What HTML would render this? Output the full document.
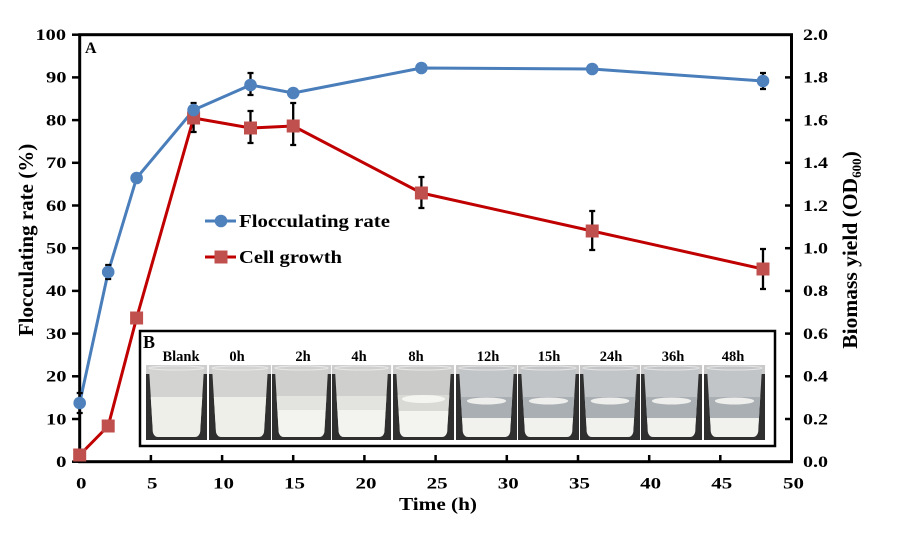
<!DOCTYPE html>
<html>
<head>
<meta charset="utf-8">
<style>
html,body{margin:0;padding:0;background:#fff;}
svg{display:block;}
text{font-family:"Liberation Serif","Times New Roman",serif;font-weight:bold;fill:#000;}
</style>
</head>
<body>
<svg width="899" height="533" viewBox="0 0 899 533" xmlns="http://www.w3.org/2000/svg">
<defs>
  <clipPath id="bk">
    <path d="M3,2 L59,2 L55,67 Q54,72 49,72 L13,72 Q8,72 7,67 Z"/>
  </clipPath>
  <g id="phA">
    <rect x="0" y="0" width="62" height="75" fill="#2f2f2f"/>
    <rect x="0" y="0" width="62" height="9" fill="#cdcdcd"/>
    <g clip-path="url(#bk)">
      <rect x="0" y="0" width="62" height="75" fill="#d3d3d1"/>
      <rect x="0" y="32" width="62" height="43" fill="#efefea"/>
    </g>
    <ellipse cx="31" cy="3" rx="28" ry="2" fill="none" stroke="#e8e8e8" stroke-width="1"/>
  </g>
  <g id="phB">
    <rect x="0" y="0" width="62" height="75" fill="#2f2f2f"/>
    <rect x="0" y="0" width="62" height="9" fill="#cdcdcd"/>
    <g clip-path="url(#bk)">
      <rect x="0" y="0" width="62" height="75" fill="#cfcfcd"/>
      <rect x="0" y="31" width="62" height="14" fill="#e3e3df"/>
      <rect x="0" y="45" width="62" height="30" fill="#f3f3ef"/>
    </g>
    <ellipse cx="31" cy="3" rx="28" ry="2" fill="none" stroke="#e8e8e8" stroke-width="1"/>
  </g>
  <g id="phC">
    <rect x="0" y="0" width="62" height="75" fill="#2f2f2f"/>
    <rect x="0" y="0" width="62" height="9" fill="#cdcdcd"/>
    <g clip-path="url(#bk)">
      <rect x="0" y="0" width="62" height="75" fill="#cbcbc9"/>
      <rect x="0" y="30" width="62" height="16" fill="#d9d9d5"/>
      <ellipse cx="31" cy="34" rx="22" ry="4" fill="#f4f4f1"/>
      <rect x="0" y="46" width="62" height="29" fill="#f3f3ef"/>
    </g>
    <ellipse cx="31" cy="3" rx="28" ry="2" fill="none" stroke="#e8e8e8" stroke-width="1"/>
  </g>
  <g id="phD">
    <rect x="0" y="0" width="62" height="75" fill="#2f2f2f"/>
    <rect x="0" y="0" width="62" height="9" fill="#c9c9c9"/>
    <g clip-path="url(#bk)">
      <rect x="0" y="0" width="62" height="75" fill="#c2c5c7"/>
      <rect x="0" y="32" width="62" height="22" fill="#a9afb3"/>
      <ellipse cx="31" cy="36" rx="20" ry="3.5" fill="#eeeeec"/>
      <rect x="0" y="53" width="62" height="22" fill="#f1f1ed"/>
    </g>
    <ellipse cx="31" cy="3" rx="28" ry="2" fill="none" stroke="#e4e4e4" stroke-width="1"/>
  </g>
</defs>

<!-- plot frame -->
<rect x="79.7" y="34.7" width="711.8" height="427" fill="none" stroke="#000" stroke-width="3"/>

<!-- left ticks (outward) -->
<g stroke="#000" stroke-width="2.5">
  <line x1="72" y1="461.7" x2="79.7" y2="461.7"/>
  <line x1="72" y1="419" x2="79.7" y2="419"/>
  <line x1="72" y1="376.3" x2="79.7" y2="376.3"/>
  <line x1="72" y1="333.6" x2="79.7" y2="333.6"/>
  <line x1="72" y1="290.9" x2="79.7" y2="290.9"/>
  <line x1="72" y1="248.2" x2="79.7" y2="248.2"/>
  <line x1="72" y1="205.5" x2="79.7" y2="205.5"/>
  <line x1="72" y1="162.8" x2="79.7" y2="162.8"/>
  <line x1="72" y1="120.1" x2="79.7" y2="120.1"/>
  <line x1="72" y1="77.4" x2="79.7" y2="77.4"/>
  <line x1="72" y1="34.7" x2="79.7" y2="34.7"/>
</g>
<!-- right ticks (inward) -->
<g stroke="#000" stroke-width="2.5">
  <line x1="785" y1="419" x2="791.5" y2="419"/>
  <line x1="785" y1="376.3" x2="791.5" y2="376.3"/>
  <line x1="785" y1="333.6" x2="791.5" y2="333.6"/>
  <line x1="785" y1="290.9" x2="791.5" y2="290.9"/>
  <line x1="785" y1="248.2" x2="791.5" y2="248.2"/>
  <line x1="785" y1="205.5" x2="791.5" y2="205.5"/>
  <line x1="785" y1="162.8" x2="791.5" y2="162.8"/>
  <line x1="785" y1="120.1" x2="791.5" y2="120.1"/>
  <line x1="785" y1="77.4" x2="791.5" y2="77.4"/>
</g>
<!-- bottom ticks (inward) -->
<g stroke="#000" stroke-width="2.5">
  <line x1="150.9" y1="455" x2="150.9" y2="461.7"/>
  <line x1="222.1" y1="455" x2="222.1" y2="461.7"/>
  <line x1="293.2" y1="455" x2="293.2" y2="461.7"/>
  <line x1="364.4" y1="455" x2="364.4" y2="461.7"/>
  <line x1="435.6" y1="455" x2="435.6" y2="461.7"/>
  <line x1="506.8" y1="455" x2="506.8" y2="461.7"/>
  <line x1="578" y1="455" x2="578" y2="461.7"/>
  <line x1="649.2" y1="455" x2="649.2" y2="461.7"/>
  <line x1="720.3" y1="455" x2="720.3" y2="461.7"/>
</g>

<!-- left tick labels -->
<g font-size="16">
  <text x="56" y="467" textLength="10.5" lengthAdjust="spacingAndGlyphs">0</text>
  <text x="46" y="424.3" textLength="20.5" lengthAdjust="spacingAndGlyphs">10</text>
  <text x="46" y="381.6" textLength="20.5" lengthAdjust="spacingAndGlyphs">20</text>
  <text x="46" y="338.9" textLength="20.5" lengthAdjust="spacingAndGlyphs">30</text>
  <text x="46" y="296.2" textLength="20.5" lengthAdjust="spacingAndGlyphs">40</text>
  <text x="46" y="253.5" textLength="20.5" lengthAdjust="spacingAndGlyphs">50</text>
  <text x="46" y="210.8" textLength="20.5" lengthAdjust="spacingAndGlyphs">60</text>
  <text x="46" y="168.1" textLength="20.5" lengthAdjust="spacingAndGlyphs">70</text>
  <text x="46" y="125.4" textLength="20.5" lengthAdjust="spacingAndGlyphs">80</text>
  <text x="46" y="82.7" textLength="20.5" lengthAdjust="spacingAndGlyphs">90</text>
  <text x="35.5" y="40" textLength="30.5" lengthAdjust="spacingAndGlyphs">100</text>
</g>
<!-- right tick labels -->
<g font-size="16">
  <text x="803" y="467" textLength="25" lengthAdjust="spacingAndGlyphs">0.0</text>
  <text x="803" y="424.3" textLength="25" lengthAdjust="spacingAndGlyphs">0.2</text>
  <text x="803" y="381.6" textLength="25" lengthAdjust="spacingAndGlyphs">0.4</text>
  <text x="803" y="338.9" textLength="25" lengthAdjust="spacingAndGlyphs">0.6</text>
  <text x="803" y="296.2" textLength="25" lengthAdjust="spacingAndGlyphs">0.8</text>
  <text x="803" y="253.5" textLength="25" lengthAdjust="spacingAndGlyphs">1.0</text>
  <text x="803" y="210.8" textLength="25" lengthAdjust="spacingAndGlyphs">1.2</text>
  <text x="803" y="168.1" textLength="25" lengthAdjust="spacingAndGlyphs">1.4</text>
  <text x="803" y="125.4" textLength="25" lengthAdjust="spacingAndGlyphs">1.6</text>
  <text x="803" y="82.7" textLength="25" lengthAdjust="spacingAndGlyphs">1.8</text>
  <text x="803" y="40" textLength="25" lengthAdjust="spacingAndGlyphs">2.0</text>
</g>
<!-- x tick labels -->
<g font-size="16">
  <text x="76" y="488.5" textLength="10.5" lengthAdjust="spacingAndGlyphs">0</text>
  <text x="147" y="488.5" textLength="10.5" lengthAdjust="spacingAndGlyphs">5</text>
  <text x="213" y="488.5" textLength="21" lengthAdjust="spacingAndGlyphs">10</text>
  <text x="284" y="488.5" textLength="21" lengthAdjust="spacingAndGlyphs">15</text>
  <text x="355.5" y="488.5" textLength="21" lengthAdjust="spacingAndGlyphs">20</text>
  <text x="426.7" y="488.5" textLength="21" lengthAdjust="spacingAndGlyphs">25</text>
  <text x="497.8" y="488.5" textLength="21" lengthAdjust="spacingAndGlyphs">30</text>
  <text x="569" y="488.5" textLength="21" lengthAdjust="spacingAndGlyphs">35</text>
  <text x="640.2" y="488.5" textLength="21" lengthAdjust="spacingAndGlyphs">40</text>
  <text x="711.3" y="488.5" textLength="21" lengthAdjust="spacingAndGlyphs">45</text>
  <text x="783" y="488.5" textLength="21" lengthAdjust="spacingAndGlyphs">50</text>
</g>

<!-- axis titles -->
<text x="399" y="510" font-size="18" textLength="78" lengthAdjust="spacingAndGlyphs">Time  (h)</text>
<text transform="translate(33,240) rotate(-90)" x="0" y="0" font-size="21" text-anchor="middle">Flocculating rate (%)</text>
<text transform="translate(857,250) rotate(-90)" x="0" y="0" font-size="21.5" text-anchor="middle">Biomass yield (OD<tspan font-size="13" dy="4">600</tspan><tspan dy="-4">)</tspan></text>

<text x="85" y="53" font-size="16">A</text>

<!-- inset -->
<rect x="140" y="331" width="635" height="115" fill="#fff" stroke="#000" stroke-width="2.5"/>
<text x="143" y="348" font-size="18">B</text>
<g font-size="14.5" text-anchor="middle">
  <text x="181" y="361">Blank</text>
  <text x="237" y="361">0h</text>
  <text x="303" y="361">2h</text>
  <text x="359" y="361">4h</text>
  <text x="416" y="361">8h</text>
  <text x="488" y="361">12h</text>
  <text x="549" y="361">15h</text>
  <text x="611" y="361">24h</text>
  <text x="673" y="361">36h</text>
  <text x="733" y="361">48h</text>
</g>
<use href="#phA" transform="translate(146,365) scale(0.984,1)"/>
<use href="#phA" transform="translate(209,365) scale(1.0,1)"/>
<use href="#phB" transform="translate(272,365) scale(0.952,1)"/>
<use href="#phB" transform="translate(332,365) scale(0.952,1)"/>
<use href="#phC" transform="translate(393,365) scale(0.984,1)"/>
<use href="#phD" transform="translate(456,365) scale(0.984,1)"/>
<use href="#phD" transform="translate(518,365) scale(0.984,1)"/>
<use href="#phD" transform="translate(580,365) scale(0.968,1)"/>
<use href="#phD" transform="translate(641,365) scale(0.984,1)"/>
<use href="#phD" transform="translate(704,365) scale(0.984,1)"/>

<!-- series lines -->
<polyline fill="none" stroke="#C00000" stroke-width="3" stroke-linejoin="round"
  points="79.7,455 108.2,426 136.6,318 193.6,118 250.5,128 293.2,126 421.4,193 592.2,231 763,269"/>
<polyline fill="none" stroke="#4A7EBB" stroke-width="3" stroke-linejoin="round"
  points="79.7,403 108.2,272 136.6,178 193.6,110 250.5,85 293.2,93 421.4,68 592.2,69 763,81"/>

<!-- error bars -->
<g stroke="#000" stroke-width="2.3">
  <path d="M79.7,393V413M76.7,393H82.7M76.7,413H82.7"/>
  <path d="M108.2,265V279M105.2,265H111.2M105.2,279H111.2"/>
  <path d="M193.6,103V117M190.6,103H196.6"/>
  <path d="M250.5,73V95M247.5,73H253.5M247.5,95H253.5"/>
  <path d="M763,73V89M760,73H766M760,89H766"/>
  <path d="M193.6,102V132M190.6,132H196.6"/>
  <path d="M250.5,111V143M247.5,111H253.5M247.5,143H253.5"/>
  <path d="M293.2,103V145M290.2,103H296.2M290.2,145H296.2"/>
  <path d="M421.4,177V208M418.4,177H424.4M418.4,208H424.4"/>
  <path d="M592.2,211V250M589.2,211H595.2M589.2,250H595.2"/>
  <path d="M763,249V289M760,249H766M760,289H766"/>
</g>

<!-- markers -->
<g fill="#C0504D">
  <rect x="73.2" y="448.5" width="13" height="13"/>
  <rect x="101.7" y="419.5" width="13" height="13"/>
  <rect x="130.1" y="311.5" width="13" height="13"/>
  <rect x="187.1" y="111.5" width="13" height="13"/>
  <rect x="244" y="121.5" width="13" height="13"/>
  <rect x="286.7" y="119.5" width="13" height="13"/>
  <rect x="414.9" y="186.5" width="13" height="13"/>
  <rect x="585.7" y="224.5" width="13" height="13"/>
  <rect x="756.5" y="262.5" width="13" height="13"/>
</g>
<g fill="#4F81BD">
  <circle cx="79.7" cy="403" r="6.3"/>
  <circle cx="108.2" cy="272" r="6.3"/>
  <circle cx="136.6" cy="178" r="6.3"/>
  <circle cx="193.6" cy="110" r="6.3"/>
  <circle cx="250.5" cy="85" r="6.3"/>
  <circle cx="293.2" cy="93" r="6.3"/>
  <circle cx="421.4" cy="68" r="6.3"/>
  <circle cx="592.2" cy="69" r="6.3"/>
  <circle cx="763" cy="81" r="6.3"/>
</g>

<!-- legend -->
<line x1="205" y1="221" x2="236" y2="221" stroke="#4A7EBB" stroke-width="3"/>
<circle cx="221" cy="221" r="6.3" fill="#4F81BD"/>
<text x="239" y="227" font-size="18" textLength="151" lengthAdjust="spacingAndGlyphs">Flocculating rate</text>
<line x1="205" y1="257" x2="236" y2="257" stroke="#C00000" stroke-width="3"/>
<rect x="214.5" y="250.5" width="13" height="13" fill="#C0504D"/>
<text x="239" y="263" font-size="18" textLength="103" lengthAdjust="spacingAndGlyphs">Cell growth</text>
</svg>
</body>
</html>
